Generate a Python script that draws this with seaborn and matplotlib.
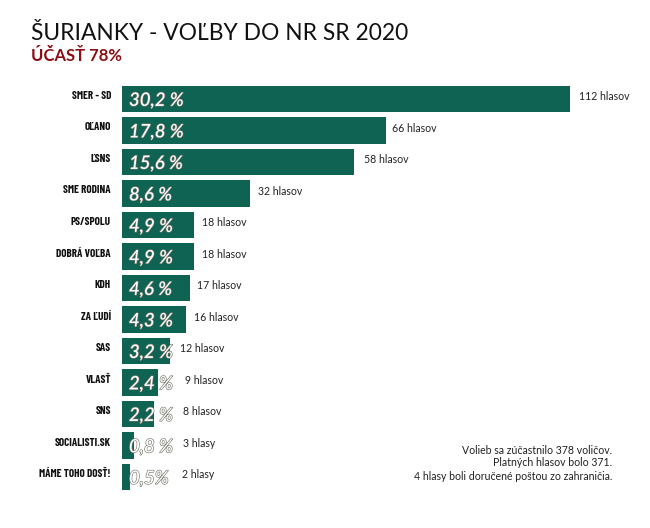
import matplotlib
matplotlib.use("Agg")
import matplotlib.pyplot as plt
import matplotlib.patheffects as pe
from matplotlib import font_manager as fm
from matplotlib.transforms import ScaledTranslation
import pandas as pd
import seaborn as sns

# ── Data ──────────────────────────────────────────────────────────────────────
parties = ["SMER - SD", "OĽANO", "ĽSNS", "SME RODINA", "PS/SPOLU", "DOBRÁ VOĽBA", "KDH",
           "ZA ĽUDÍ", "SAS", "VLASŤ", "SNS", "SOCIALISTI.SK", "MÁME TOHO DOSŤ!"]
votes = [112, 66, 58, 32, 18, 18, 17, 16, 12, 9, 8, 3, 2]
percents = ["30,2 %", "17,8 %", "15,6 %", "8,6 %", "4,9 %", "4,9 %", "4,6 %",
            "4,3 %", "3,2 %", "2,4 %", "2,2 %", "0,8 %", "0,5%"]
vote_labels = ["112 hlasov", "66 hlasov", "58 hlasov", "32 hlasov", "18 hlasov", "18 hlasov",
               "17 hlasov", "16 hlasov", "12 hlasov", "9 hlasov", "8 hlasov", "3 hlasy", "2 hlasy"]

# ── Style ─────────────────────────────────────────────────────────────────────
GREEN = "#0f6352"
RED = "#8a1014"
W, H = 650, 528
# gap between bar end and vote label, px (short bars leave room for the % text)
vote_gap = [9, 6, 10, 8, 8, 8, 7, 8, 10, 27, 29, 49, 52]

sns.set_theme(style="white")
plt.rcParams["font.family"] = ["Lato", "DejaVu Sans"]

# the party labels are condensed, use a narrow face when the machine has one
installed = {f.name for f in fm.fontManager.ttflist}
narrow = "Barlow Condensed" if "Barlow Condensed" in installed else "Liberation Sans"
narrow_size = 8.0 if narrow == "Barlow Condensed" else 5.6

fig = plt.figure(figsize=(W / 100, H / 100), dpi=100, facecolor="white")
# one data unit = 4 px on x, one category = 31.5 px on y
ax = fig.add_axes([122 / W, 1 - 495 / H, (W - 122) / W, (495 - 83) / H])

df = pd.DataFrame({"party": parties, "votes": votes})
sns.barplot(data=df, x="votes", y="party", color=GREEN, saturation=1, width=0.83, linewidth=0, ax=ax)
ax.set_xlim(0, (W - 122) / 4)
ax.set_ylim(12 + (495 - 477) / 31.5, -(99 - 83) / 31.5)
ax.set_xlabel("")
ax.set_ylabel("")
ax.set_xticks([])
ax.tick_params(axis="y", length=0, pad=8)
lift = ScaledTranslation(0, 4 / 72 * 0.72, fig.dpi_scale_trans)
for label in ax.get_yticklabels():
    label.set_fontfamily([narrow, "DejaVu Sans"])
    label.set_fontweight("bold")
    label.set_fontsize(narrow_size)
    label.set_color("#111111")
    label.set_transform(label.get_transform() + lift)
sns.despine(ax=ax, left=True, bottom=True)

for i, (v, pct, vl, gap) in enumerate(zip(votes, percents, vote_labels, vote_gap)):
    ax.annotate(pct, (0, i), xytext=(5.0, -1), textcoords="offset points",
                ha="left", va="center", color="white", fontsize=13.4,
                fontstyle="italic", fontweight="medium",
                path_effects=[pe.withStroke(linewidth=0.9, foreground="#77776c")])
    ax.annotate(vl, (v, i), xytext=(gap * 0.72, 1.5), textcoords="offset points",
                ha="left", va="center", color="#222222", fontsize=7.6)

fig.text(31 / W, 1 - 40 / H, "ŠURIANKY - VOĽBY DO NR SR 2020", fontsize=16.4, color="#111111", va="baseline")
fig.text(31 / W, 1 - 61 / H, "ÚČASŤ 78%", fontsize=12, color=RED, fontweight="bold", va="baseline")

notes = ["Volieb sa zúčastnilo 378 voličov.", "Platných hlasov bolo 371.",
         "4 hlasy boli doručené poštou zo zahraničia."]
for note, y in zip(notes, [450, 463, 477]):
    fig.text(612 / W, 1 - y / H, note, fontsize=7.6, color="#222222", ha="right", va="center")

fig.savefig("out.png", dpi=100)
